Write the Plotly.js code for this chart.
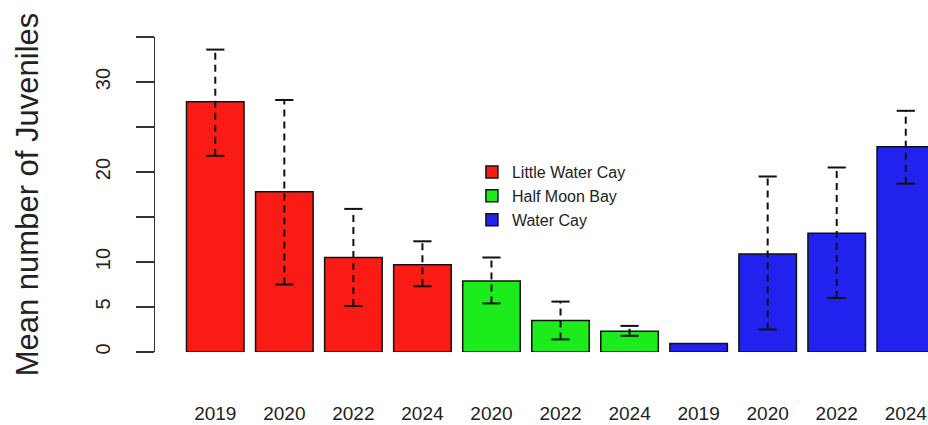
<!DOCTYPE html>
<html>
<head>
<meta charset="utf-8">
<script src="https://cdn.plot.ly/plotly-3.0.1.min.js"></script>
<style>html,body{margin:0;padding:0;background:#fff;}#chart{width:928px;height:425px;}</style>
</head>
<body>
<div id="chart"></div>
<script>
const yearLabels = ["2019","2020","2022","2024","2020","2022","2024","2019","2020","2022","2024"];
const siteOfBar = ["Little Water Cay","Little Water Cay","Little Water Cay","Little Water Cay",
  "Half Moon Bay","Half Moon Bay","Half Moon Bay",
  "Water Cay","Water Cay","Water Cay","Water Cay"];
const meanValues = [27.8, 17.8, 10.5, 9.7, 7.9, 3.5, 2.3, 0.95, 10.9, 13.2, 22.8];
const lowerValues = [21.8, 7.5, 5.1, 7.3, 5.4, 1.4, 1.8, null, 2.5, 6.0, 18.7];
const upperValues = [33.6, 28.0, 15.9, 12.3, 10.5, 5.6, 2.9, null, 19.5, 20.5, 26.8];
const siteNames = ["Little Water Cay", "Half Moon Bay", "Water Cay"];
const siteColors = ["#fa1c14", "#1cec1c", "#2222ee"];
const yTickVals = [0, 5, 10, 15, 20, 25, 30, 35];
const yTickText = ["0", "5", "10", "", "20", "", "30", ""];

const idx = yearLabels.map((_, i) => i);
const traces = [];
siteNames.forEach((s, k) => {
  const xs = [], ys = [];
  idx.forEach(i => { if (siteOfBar[i] === s) { xs.push(i); ys.push(meanValues[i]); } });
  traces.push({
    type: "bar", name: s, x: xs, y: ys, width: 1/1.2,
    marker: {color: siteColors[k], line: {color: "#111", width: 1.5}},
    hoverinfo: "skip"
  });
});
// dashed error lines
const ex = [], ey = [];
idx.forEach(i => {
  if (lowerValues[i] !== null) { ex.push(i, i, null); ey.push(lowerValues[i], upperValues[i], null); }
});
traces.push({type: "scatter", mode: "lines", x: ex, y: ey, showlegend: false,
  line: {color: "#111", width: 2, dash: "7px,5px"}, hoverinfo: "skip"});
// caps
const cx = [], cy = [];
idx.forEach(i => {
  if (lowerValues[i] !== null) { cx.push(i, i); cy.push(lowerValues[i], upperValues[i]); }
});
traces.push({type: "scatter", mode: "markers", x: cx, y: cy, showlegend: false,
  marker: {symbol: "line-ew", size: 13, line: {color: "#111", width: 2}}, hoverinfo: "skip"});

const layout = {
  width: 928, height: 425,
  margin: {l: 155, r: 0, t: 37, b: 73},
  paper_bgcolor: "#fff", plot_bgcolor: "#fff",
  font: {family: "Liberation Sans, Arial, sans-serif", color: "#222"},
  showlegend: true,
  legend: {x: 0.41, y: 0.625, xanchor: "left", yanchor: "top", bgcolor: "rgba(0,0,0,0)",
    font: {size: 16, color: "#222"}, tracegroupgap: 0, itemwidth: 30},
  xaxis: {
    range: [-0.873, 10.322], tickvals: idx, ticktext: yearLabels,
    showgrid: false, zeroline: false, showline: false, ticks: "",
    tickfont: {size: 19, color: "#222"}, ticklabelstandoff: 48, ticklabeloverflow: "allow",
    fixedrange: true
  },
  yaxis: {
    range: [0, 35], tickvals: yTickVals, ticktext: yTickText, tickangle: -90,
    showgrid: false, zeroline: false, showline: true, linecolor: "#333", linewidth: 1.5,
    ticks: "outside", ticklen: 18, tickwidth: 1.5, tickcolor: "#333",
    tickfont: {size: 20, color: "#222"}, ticklabelstandoff: 18,
    title: {text: "Mean number of Juveniles", font: {size: 31, color: "#222"}, standoff: 43},
    fixedrange: true
  }
};
Plotly.newPlot("chart", traces, layout, {displayModeBar: false, staticPlot: true});
</script>
</body>
</html>
